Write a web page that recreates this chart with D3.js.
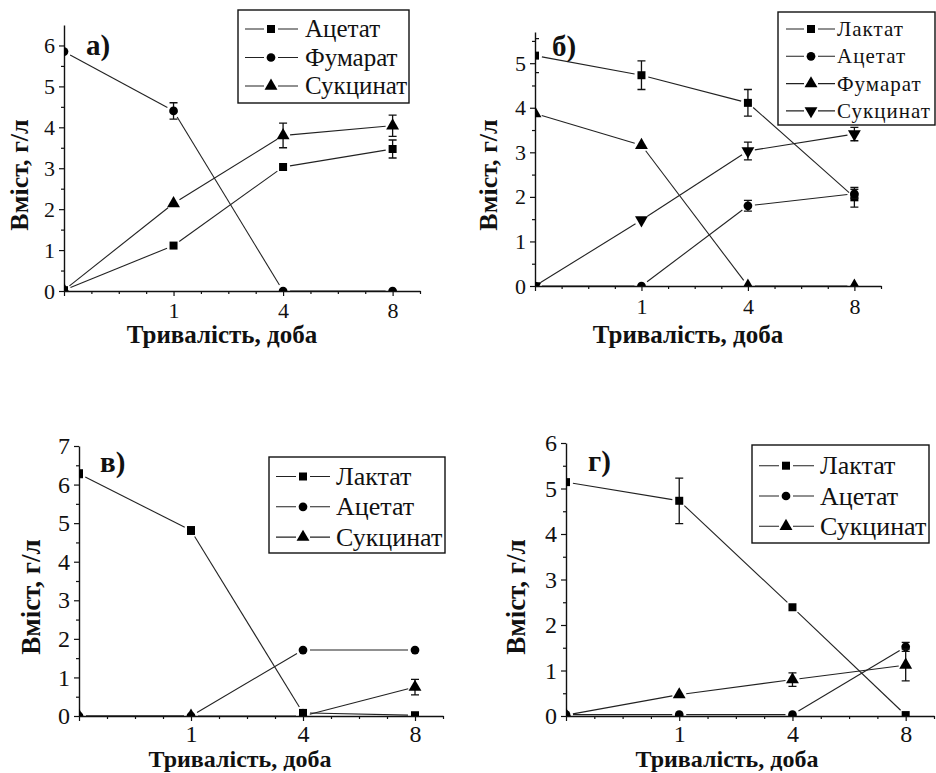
<!DOCTYPE html>
<html>
<head>
<meta charset="utf-8">
<script src="https://cdn.jsdelivr.net/npm/d3@7"></script>
<style>
  body { margin: 0; background: #fff; }
  .tick text { font-family: "Liberation Serif", serif !important; }
</style>
</head>
<body>
<div id="chart"></div>
<script>
// x categories (index 0 has no label)
const dayLabels = ["", "1", "4", "8"];

// panel а)
const aAcetate = [0.02, 1.11, 3.03, 3.47];
const aAcetateErr = [0, 0, 0, 0.22];
const aFumarate = [5.85, 4.4, 0, 0];
const aFumarateErr = [0, 0.2, 0, 0];
const aSuccinate = [0.02, 2.14, 3.8, 4.04];
const aSuccinateErr = [0, 0, 0.3, 0.26];

// panel б)
const bLactate = [5.17, 4.73, 4.11, 1.99];
const bLactateErr = [0.38, 0.32, 0.3, 0.22];
const bAcetate = [0, 0, 1.8, 2.07];
const bAcetateErr = [0, 0, 0.12, 0.1];
const bFumarate = [3.87, 3.16, 0, 0];
const bFumarateErr = [0, 0, 0, 0];
const bSuccinate = [0, 1.48, 3.03, 3.41];
const bSuccinateErr = [0, 0, 0.2, 0.15];

// panel в)
const cLactate = [6.28, 4.81, 0.08, 0.02];
const cLactateErr = [0.1, 0.1, 0, 0];
const cAcetate = [0, 0, 1.71, 1.71];
const cAcetateErr = [0, 0, 0, 0];
const cSuccinate = [0, 0, 0, 0.75];
const cSuccinateErr = [0, 0, 0, 0.2];

// panel г)
const dLactate = [5.14, 4.73, 2.39, 0.02];
const dLactateErr = [0, 0.5, 0, 0];
const dAcetate = [0.03, 0.03, 0.03, 1.52];
const dAcetateErr = [0, 0, 0, 0.1];
const dSuccinate = [0.02, 0.47, 0.8, 1.12];
const dSuccinateErr = [0, 0, 0.15, 0.35];

const W = 936, H = 773;
const FONT = '"Liberation Serif", serif';
const svg = d3.select("#chart").append("svg")
    .attr("width", W).attr("height", H);

// layout of each panel (pixels)
const panels = [
    {
        key: "a", label: "а)", labelX: 86, labelY: 55, labelSize: 29,
        left: 64, right: 420, bottom: 291, top: 25, yMax: 6.5,
        tickFs: 22, xLabelBase: 27, yTitle: [19, 175], yTitleFs: 26,
        xTitle: [222, 343], xTitleFs: 25,
        legend: {x: 238, y: 10, w: 171, h: 93, first: 19, step: 28.5, l0: 7, l1: 60, m: 33, t: 67, fs: 25, ls: 0},
        names: ["Ацетат", "Фумарат", "Сукцинат"],
        symbols: ["square", "circle", "up"],
        values: [aAcetate, aFumarate, aSuccinate],
        errors: [aAcetateErr, aFumarateErr, aSuccinateErr]
    },
    {
        key: "b", label: "б)", labelX: 552, labelY: 56, labelSize: 29,
        left: 535, right: 881, bottom: 286, top: 32, yMax: 5.7,
        tickFs: 22, xLabelBase: 28, yTitle: [488, 175], yTitleFs: 26,
        xTitle: [688, 343], xTitleFs: 25,
        legend: {x: 778, y: 12, w: 157, h: 113, first: 17, step: 27.3, l0: 8, l1: 57, m: 33, t: 59, fs: 21, ls: 1},
        names: ["Лактат", "Ацетат", "Фумарат", "Сукцинат"],
        symbols: ["square", "circle", "up", "down"],
        values: [bLactate, bAcetate, bFumarate, bSuccinate],
        errors: [bLactateErr, bAcetateErr, bFumarateErr, bSuccinateErr]
    },
    {
        key: "c", label: "в)", labelX: 100, labelY: 472, labelSize: 29,
        left: 79, right: 443, bottom: 716, top: 446, yMax: 7,
        tickFs: 24, xLabelBase: 26, yTitle: [31, 597], yTitleFs: 27,
        xTitle: [240, 767], xTitleFs: 24,
        legend: {x: 269, y: 457, w: 176, h: 96, first: 19.5, step: 30.3, l0: 7, l1: 61, m: 34, t: 67, fs: 26, ls: 0},
        names: ["Лактат", "Ацетат", "Сукцинат"],
        symbols: ["square", "circle", "up"],
        values: [cLactate, cAcetate, cSuccinate],
        errors: [cLactateErr, cAcetateErr, cSuccinateErr]
    },
    {
        key: "d", label: "г)", labelX: 588, labelY: 471, labelSize: 29,
        left: 566, right: 934, bottom: 716, top: 443, yMax: 6,
        tickFs: 24, xLabelBase: 26, yTitle: [516, 597], yTitleFs: 27,
        xTitle: [727, 767], xTitleFs: 24,
        legend: {x: 752, y: 445, w: 177, h: 98, first: 20.7, step: 30.3, l0: 7, l1: 62, m: 34, t: 68, fs: 26, ls: 0},
        names: ["Лактат", "Ацетат", "Сукцинат"],
        symbols: ["square", "circle", "up"],
        values: [dLactate, dAcetate, dSuccinate],
        errors: [dLactateErr, dAcetateErr, dSuccinateErr]
    }
];

// marker paths
function symbolPath(kind) {
    if (kind === "square") return d3.symbol(d3.symbolSquare, 64)();
    if (kind === "circle") return d3.symbol(d3.symbolCircle, 60)();
    return d3.symbol(d3.symbolTriangle, 72)();
}
function symbolTransform(kind, px, py) {
    return kind === "down" ? `translate(${px},${py}) rotate(180)` : `translate(${px},${py})`;
}

const GAP = 7; // Origin style gap between line and symbol

function drawPanel(p) {
    const x = d3.scaleLinear().domain([0, 3.25]).range([p.left, p.right]);
    const y = d3.scaleLinear().domain([0, p.yMax]).range([p.bottom, p.top]);
    const g = svg.append("g");

    // clip everything to the plotting area, like the original
    const clipId = "clip-" + p.key;
    svg.append("clipPath").attr("id", clipId)
        .append("rect")
        .attr("x", p.left).attr("y", p.top - 15)
        .attr("width", p.right - p.left).attr("height", p.bottom - p.top + 15);

    // y axis
    const yMajor = d3.range(0, Math.floor(p.yMax) + 1);
    const yMinor = d3.range(0.5, p.yMax, 1);
    const yAx = g.append("g")
        .attr("transform", `translate(${p.left},0)`)
        .call(d3.axisLeft(y).tickValues(yMajor).tickSize(5).tickSizeOuter(0).tickPadding(4).tickFormat(d3.format("d")));
    g.append("g")
        .attr("transform", `translate(${p.left},0)`)
        .call(d3.axisLeft(y).tickValues(yMinor).tickSize(3).tickFormat(""))
        .select(".domain").remove();

    // x axis
    const xMajor = [0, 1, 2, 3];
    const xMinor = d3.range(0.25, 3.3, 0.25).filter(v => Math.abs(v - Math.round(v)) > 0.01);
    const pad = p.xLabelBase - 5 - 0.71 * p.tickFs;
    const xAx = g.append("g")
        .attr("transform", `translate(0,${p.bottom})`)
        .call(d3.axisBottom(x).tickValues(xMajor).tickSize(5).tickSizeOuter(0).tickPadding(pad).tickFormat(i => dayLabels[i]));
    g.append("g")
        .attr("transform", `translate(0,${p.bottom})`)
        .call(d3.axisBottom(x).tickValues(xMinor).tickSize(3).tickFormat(""))
        .select(".domain").remove();

    g.selectAll(".tick line").attr("stroke", "#111").attr("stroke-width", 1.2);
    g.selectAll(".domain").attr("stroke", "#111").attr("stroke-width", 1.4);
    [yAx, xAx].forEach(ax => ax
        .attr("font-family", "Liberation Serif")
        .attr("font-size", p.tickFs)
        .selectAll("text")
        .attr("fill", "#111")
        .attr("font-family", "Liberation Serif")
        .style("font-size", p.tickFs + "px"));

    // data layer
    const plot = g.append("g").attr("clip-path", `url(#${clipId})`);

    p.values.forEach((vals, s) => {
        const pts = vals.map((v, i) => [x(i), y(v)]);
        // connecting lines with gaps at the symbols
        for (let i = 0; i < pts.length - 1; i++) {
            const [x0, y0] = pts[i], [x1, y1] = pts[i + 1];
            const len = Math.hypot(x1 - x0, y1 - y0);
            if (len <= 2 * GAP) continue;
            const ux = (x1 - x0) / len, uy = (y1 - y0) / len;
            plot.append("line")
                .attr("x1", x0 + ux * GAP).attr("y1", y0 + uy * GAP)
                .attr("x2", x1 - ux * GAP).attr("y2", y1 - uy * GAP)
                .attr("stroke", "#222").attr("stroke-width", 1.1);
        }
        // error bars
        p.errors[s].forEach((e, i) => {
            if (!e) return;
            const cx = x(i), ya = y(vals[i] - e), yb = y(vals[i] + e);
            plot.append("path")
                .attr("d", `M${cx},${ya}V${yb}M${cx - 4},${ya}H${cx + 4}M${cx - 4},${yb}H${cx + 4}`)
                .attr("stroke", "#111").attr("stroke-width", 1.3).attr("fill", "none");
        });
        // symbols
        const kind = p.symbols[s];
        plot.selectAll(null)
            .data(vals)
            .join("path")
            .attr("d", symbolPath(kind))
            .attr("transform", (v, i) => symbolTransform(kind, x(i), y(v)))
            .attr("fill", "#000");
    });

    // panel label
    g.append("text")
        .attr("x", p.labelX).attr("y", p.labelY)
        .style("font-family", FONT).style("font-size", p.labelSize + "px").style("font-weight", "bold")
        .attr("fill", "#111")
        .text(p.label);

    // axis titles
    g.append("text")
        .attr("transform", `translate(${p.yTitle[0]},${p.yTitle[1]}) rotate(-90)`)
        .attr("text-anchor", "middle").attr("dy", "0.35em")
        .style("font-family", FONT).style("font-size", p.yTitleFs + "px").style("font-weight", "bold")
        .attr("fill", "#111")
        .text("Вміст, г/л");
    g.append("text")
        .attr("x", p.xTitle[0]).attr("y", p.xTitle[1])
        .attr("text-anchor", "middle")
        .style("font-family", FONT).style("font-size", p.xTitleFs + "px").style("font-weight", "bold")
        .attr("fill", "#111")
        .text("Тривалість, доба");

    // legend
    const L = p.legend;
    const lg = g.append("g").attr("transform", `translate(${L.x},${L.y})`);
    lg.append("rect")
        .attr("width", L.w).attr("height", L.h)
        .attr("fill", "#fff").attr("stroke", "#111").attr("stroke-width", 1.4);
    p.names.forEach((name, s) => {
        const ry = L.first + s * L.step;
        lg.append("path")
            .attr("d", `M${L.l0},${ry}H${L.m - 7}M${L.m + 7},${ry}H${L.l1}`)
            .attr("stroke", "#222").attr("stroke-width", 1.1);
        lg.append("path")
            .attr("d", symbolPath(p.symbols[s]))
            .attr("transform", symbolTransform(p.symbols[s], L.m, ry))
            .attr("fill", "#000");
        lg.append("text")
            .attr("x", L.t).attr("y", ry).attr("dy", "0.33em")
            .style("font-family", FONT).style("font-size", L.fs + "px")
            .style("letter-spacing", L.ls + "px")
            .attr("fill", "#111")
            .text(name);
    });
}

panels.forEach(drawPanel);
</script>
</body>
</html>
